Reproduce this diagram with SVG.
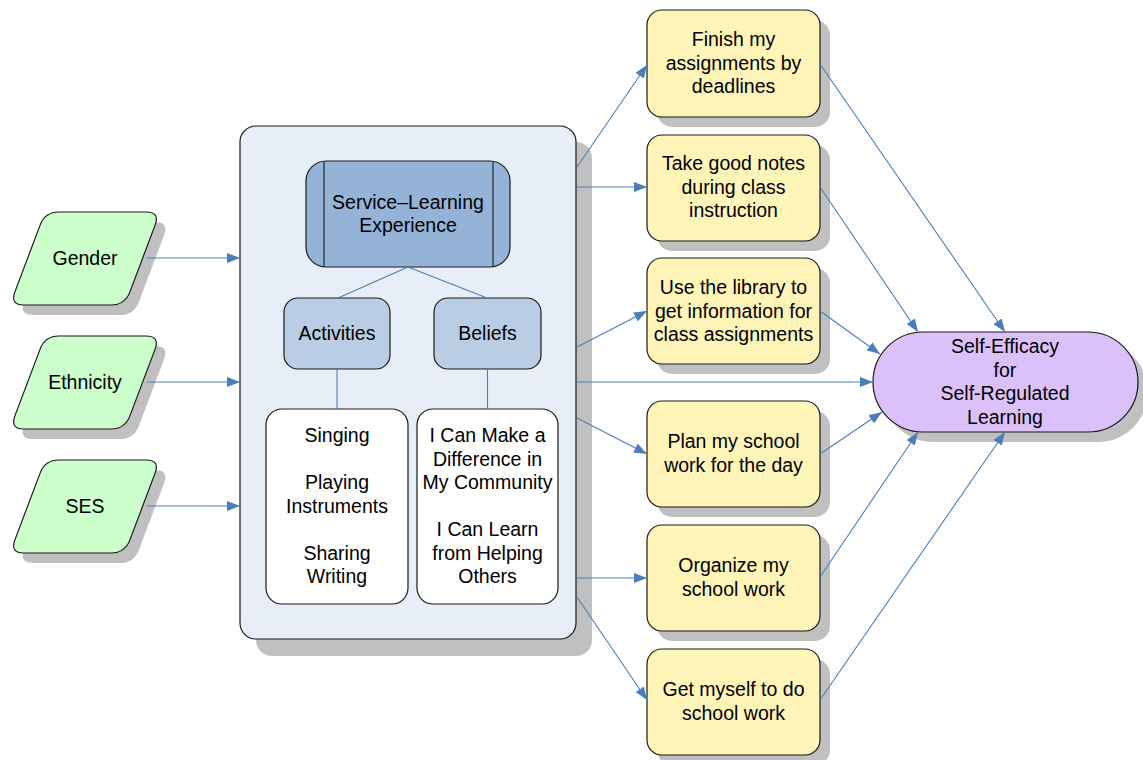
<svg xmlns="http://www.w3.org/2000/svg" width="1143" height="760" viewBox="0 0 1143 760">
<defs>
<style>
text{font-family:"Liberation Sans",Arial,sans-serif;font-size:19.5px;fill:#000;text-anchor:middle}
.sh{fill:#C0C0C0}
.n{stroke:#1a1a1a;stroke-width:1.2}
.c{stroke:#4A7EBB;stroke-width:1.1;fill:none}
.ca{stroke:#4A7EBB;stroke-width:1.1;fill:none;marker-end:url(#ah)}
.yel{fill:#FFF5B9}
.grn{fill:#CCFFCC}
</style>
<marker id="ah" markerUnits="userSpaceOnUse" markerWidth="14" markerHeight="10" refX="13" refY="5" orient="auto">
<path d="M0,0 L13,5 L0,10 Z" fill="#4A7EBB"/>
</marker>
<path id="para" d="M59,212 L146,212 Q160,212 155.1,225.1 L129.9,291.9 Q125,305 111,305 L24,305 Q10,305 14.9,291.9 L40.1,225.1 Q45,212 59,212 Z"/>
</defs>
<rect width="1143" height="760" fill="#fff"/>

<g id="gender">
<use href="#para" class="sh" transform="translate(9,10)"/>
<use href="#para" class="n grn"/>
<text x="85" y="265">Gender</text>
</g>
<g id="ethnicity">
<use href="#para" class="sh" transform="translate(9,134)"/>
<use href="#para" class="n grn" transform="translate(0,124)"/>
<text x="85" y="389">Ethnicity</text>
</g>
<g id="ses">
<use href="#para" class="sh" transform="translate(9,258)"/>
<use href="#para" class="n grn" transform="translate(0,248)"/>
<text x="85" y="513">SES</text>
</g>

<g id="container">
<rect x="256" y="142" width="336" height="514" rx="16" class="sh"/>
<rect x="240" y="126" width="336" height="513" rx="16" class="n" fill="#E8EEF8"/>
</g>

<g id="service-learning">
<rect x="306" y="161" width="204" height="106" rx="20" class="n" fill="#95B3D7"/>
<line x1="324" y1="161" x2="324" y2="267" stroke="#3a3f4a" stroke-width="1.5"/>
<line x1="493" y1="161" x2="493" y2="267" stroke="#3a3f4a" stroke-width="1.5"/>
<text x="408" y="209">Service–Learning</text>
<text x="408" y="232">Experience</text>
</g>

<g id="activities">
<rect x="284" y="298" width="106" height="71" rx="14" class="n" fill="#B9CDE5"/>
<text x="337" y="340">Activities</text>
</g>
<g id="beliefs">
<rect x="434" y="298" width="107" height="71" rx="14" class="n" fill="#B9CDE5"/>
<text x="487.5" y="340">Beliefs</text>
</g>

<g id="activities-list">
<rect x="266" y="409" width="142" height="195" rx="16" class="n" fill="#fff"/>
<text x="337" y="442">Singing</text>
<text x="337" y="489">Playing</text>
<text x="337" y="512.5">Instruments</text>
<text x="337" y="559.5">Sharing</text>
<text x="337" y="583">Writing</text>
</g>
<g id="beliefs-list">
<rect x="417" y="409" width="141" height="195" rx="16" class="n" fill="#fff"/>
<text x="487.5" y="442">I Can Make a</text>
<text x="487.5" y="465.5">Difference in</text>
<text x="487.5" y="489">My Community</text>
<text x="487.5" y="536">I Can Learn</text>
<text x="487.5" y="559.5">from Helping</text>
<text x="487.5" y="583">Others</text>
</g>

<g id="box1">
<rect x="657" y="20" width="173" height="107" rx="15" class="sh"/>
<rect x="647" y="10" width="173" height="107" rx="15" class="n yel"/>
<text x="733.5" y="46">Finish my</text>
<text x="733.5" y="69.5">assignments by</text>
<text x="733.5" y="93">deadlines</text>
</g>
<g id="box2">
<rect x="657" y="145" width="173" height="106" rx="15" class="sh"/>
<rect x="647" y="135" width="173" height="106" rx="15" class="n yel"/>
<text x="733.5" y="170">Take good notes</text>
<text x="733.5" y="193.5">during class</text>
<text x="733.5" y="217">instruction</text>
</g>
<g id="box3">
<rect x="657" y="268" width="173" height="106" rx="15" class="sh"/>
<rect x="647" y="258" width="173" height="106" rx="15" class="n yel"/>
<text x="733.5" y="294">Use the library to</text>
<text x="733.5" y="317.5">get information for</text>
<text x="733.5" y="341">class assignments</text>
</g>
<g id="box4">
<rect x="657" y="411" width="173" height="106" rx="15" class="sh"/>
<rect x="647" y="401" width="173" height="106" rx="15" class="n yel"/>
<text x="733.5" y="448">Plan my school</text>
<text x="733.5" y="471.5">work for the day</text>
</g>
<g id="box5">
<rect x="657" y="535" width="173" height="106" rx="15" class="sh"/>
<rect x="647" y="525" width="173" height="106" rx="15" class="n yel"/>
<text x="733.5" y="572">Organize my</text>
<text x="733.5" y="595.5">school work</text>
</g>
<g id="box6">
<rect x="657" y="659" width="173" height="106" rx="15" class="sh"/>
<rect x="647" y="649" width="173" height="106" rx="15" class="n yel"/>
<text x="733.5" y="696">Get myself to do</text>
<text x="733.5" y="719.5">school work</text>
</g>

<g id="outcome">
<rect x="883" y="342" width="265" height="100" rx="50" class="sh"/>
<rect x="873" y="332" width="265" height="100" rx="50" class="n" fill="#DCC0FA"/>
<text x="1005" y="353">Self-Efficacy</text>
<text x="1005" y="376.5">for</text>
<text x="1005" y="400">Self-Regulated</text>
<text x="1005" y="423.5">Learning</text>
</g>

<g id="connectors">
<line class="ca" x1="147" y1="258" x2="240" y2="258"/>
<line class="ca" x1="147" y1="382" x2="240" y2="382"/>
<line class="ca" x1="147" y1="506" x2="240" y2="506"/>
<line class="c" x1="408" y1="267" x2="338" y2="298"/>
<line class="c" x1="408" y1="267" x2="487" y2="298"/>
<line class="c" x1="337" y1="369" x2="337" y2="409"/>
<line class="c" x1="487.5" y1="369" x2="487.5" y2="409"/>
<line class="ca" x1="577" y1="167" x2="647" y2="65"/>
<line class="ca" x1="577" y1="187" x2="647" y2="187"/>
<line class="ca" x1="577" y1="347" x2="647" y2="311"/>
<line class="ca" x1="577" y1="382" x2="873" y2="382"/>
<line class="ca" x1="577" y1="418" x2="647" y2="454"/>
<line class="ca" x1="577" y1="578" x2="647" y2="578"/>
<line class="ca" x1="577" y1="597" x2="647" y2="700"/>
<line class="ca" x1="820" y1="64" x2="1005" y2="332"/>
<line class="ca" x1="820" y1="187" x2="918" y2="332"/>
<line class="ca" x1="820" y1="311" x2="880" y2="354"/>
<line class="ca" x1="820" y1="454" x2="882" y2="412"/>
<line class="ca" x1="820" y1="577" x2="918" y2="432"/>
<line class="ca" x1="820" y1="700" x2="1005" y2="432"/>
</g>
</svg>
